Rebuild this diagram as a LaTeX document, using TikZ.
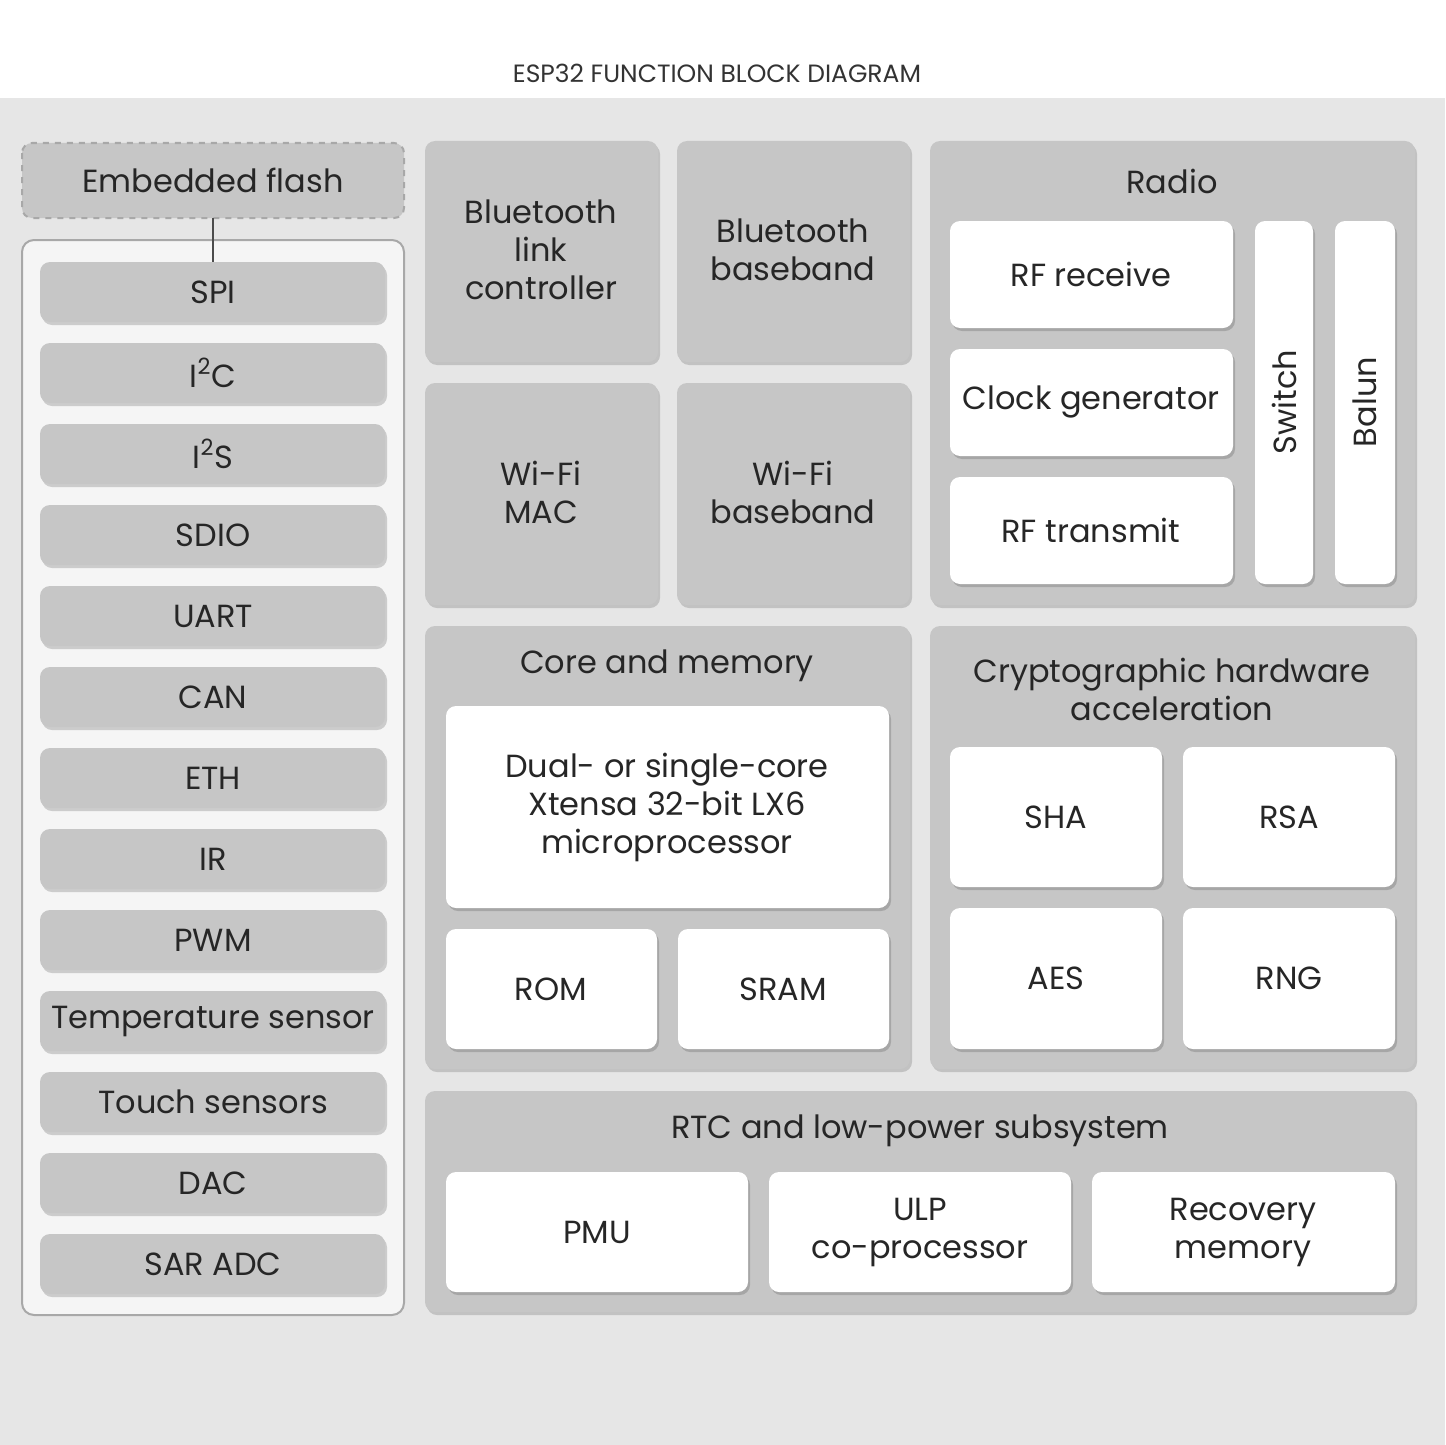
\documentclass[tikz,border=0pt]{standalone}
\usepackage{fontspec}
\setmainfont{Poppins}
\usetikzlibrary{shadows}
\definecolor{bg}{HTML}{E6E6E6}
\definecolor{grp}{HTML}{C6C6C6}
\definecolor{edge}{HTML}{A8A8A8}
\tikzset{
 gbox/.style={fill=grp,rounded corners=5pt,drop shadow={shadow xshift=1pt,shadow yshift=-1.5pt,opacity=.35}},
 wbox/.style={fill=white,rounded corners=5pt,drop shadow={shadow xshift=1pt,shadow yshift=-1.5pt,opacity=.45}},
 lbl/.style={font=\fontsize{16}{19}\selectfont,align=center,text=black!85},
}
\newcommand{\bx}[4]{\path[#1] (#2) rectangle (#3);}
\begin{document}
\begin{tikzpicture}[x=0.5pt,y=-0.5pt]
\fill[white] (0,0) rectangle (1445,1445);
\fill[bg] (0,98) rectangle (1445,1445);
\useasboundingbox (0,0) rectangle (1445,1445);
\node[font=\fontsize{12.5}{14}\selectfont,text=black!80] (title) at (717,73) {ESP32 FUNCTION BLOCK DIAGRAM};
% flash
\path[fill=grp,rounded corners=5pt,draw=edge,dashed,line width=1pt] (22,143) rectangle (404,218);
\node[lbl] (flash) at (213,180) {Embedded flash};
\path[fill=white!96!black,rounded corners=6pt,draw=edge,line width=1pt] (22,240) rectangle (404,1315);
\coordinate (fl) at (213,218);
\coordinate (sp) at (213,262);
\draw[black!70,line width=1.2pt] (fl) -- (sp);
\foreach \t [count=\i from 0] in {SPI,I\textsuperscript{2}C,I\textsuperscript{2}S,SDIO,UART,CAN,ETH,IR,PWM,Temperature sensor,Touch sensors,DAC,SAR ADC}{
 \path[gbox] (40,262+81*\i) rectangle (385,322+81*\i);
 \node[lbl] (p\i) at (213,292+81*\i) {\t};
}
% BT / WiFi
\path[gbox] (425,141) rectangle (658,362); \node[lbl] (btl) at (541,250) {Bluetooth\\link\\controller};
\path[gbox] (677,141) rectangle (910,362); \node[lbl] (btb) at (793,250) {Bluetooth\\baseband};
\path[gbox] (425,383) rectangle (658,605); \node[lbl] (wm) at (541,492) {Wi-Fi\\MAC};
\path[gbox] (677,383) rectangle (910,605); \node[lbl] (wb) at (793,492) {Wi-Fi\\baseband};
% Radio
\path[gbox] (930,141) rectangle (1415,605); \node[lbl] (radio) at (1172,181) {Radio};
\path[wbox] (950,221) rectangle (1233,328); \node[lbl] (rfr) at (1091,274) {RF receive};
\path[wbox] (950,349) rectangle (1233,456); \node[lbl] (clk) at (1091,402) {Clock generator};
\path[wbox] (950,477) rectangle (1233,584); \node[lbl] (rft) at (1091,530) {RF transmit};
\path[wbox] (1255,221) rectangle (1313,584); \node[lbl,rotate=90] (sw) at (1284,402) {Switch};
\path[wbox] (1335,221) rectangle (1395,584); \node[lbl,rotate=90] (bal) at (1365,402) {Balun};
% Core
\path[gbox] (425,626) rectangle (910,1069); \node[lbl] (core) at (667,666) {Core and memory};
\path[wbox] (446,706) rectangle (889,908); \node[lbl] (cpu) at (667,807) {Dual- or single-core\\Xtensa 32-bit LX6\\microprocessor};
\path[wbox] (446,929) rectangle (657,1049); \node[lbl] (rom) at (551,989) {ROM};
\path[wbox] (678,929) rectangle (889,1049); \node[lbl] (sram) at (783,989) {SRAM};
% Crypto
\path[gbox] (930,626) rectangle (1415,1069); \node[lbl] (cry) at (1172,689) {Cryptographic hardware\\acceleration};
\path[wbox] (950,747) rectangle (1162,887); \node[lbl] (sha) at (1056,817) {SHA};
\path[wbox] (1183,747) rectangle (1395,887); \node[lbl] (rsa) at (1289,817) {RSA};
\path[wbox] (950,908) rectangle (1162,1049); \node[lbl] (aes) at (1056,978) {AES};
\path[wbox] (1183,908) rectangle (1395,1049); \node[lbl] (rng) at (1289,978) {RNG};
% RTC
\path[gbox] (425,1091) rectangle (1415,1312); \node[lbl] (rtc) at (920,1131) {RTC and low-power subsystem};
\path[wbox] (446,1172) rectangle (748,1292); \node[lbl] (pmu) at (597,1232) {PMU};
\path[wbox] (769,1172) rectangle (1071,1292); \node[lbl] (ulp) at (920,1232) {ULP\\co-processor};
\path[wbox] (1092,1172) rectangle (1395,1292); \node[lbl] (rec) at (1243,1232) {Recovery\\memory};
\end{tikzpicture}
\end{document}
